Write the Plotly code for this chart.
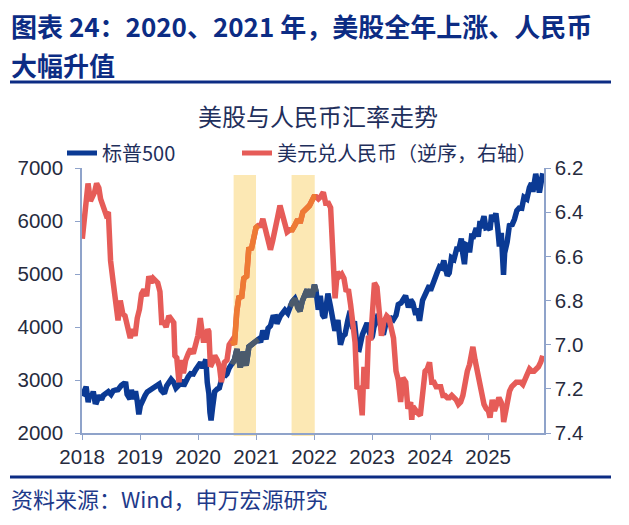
import plotly.graph_objects as go
import pandas as pd

# ---------------- data ----------------
spx_dates = ["2018-01-02","2018-01-16","2018-01-26","2018-02-08","2018-02-16","2018-03-01","2018-03-12","2018-03-23","2018-04-02","2018-04-18","2018-05-03","2018-05-15","2018-06-01","2018-06-15","2018-07-02","2018-07-16","2018-08-01","2018-08-15","2018-09-04","2018-09-20","2018-10-03","2018-10-11","2018-10-29","2018-11-07","2018-11-20","2018-12-03","2018-12-14","2018-12-24",
"2019-01-02","2019-01-15","2019-02-01","2019-02-15","2019-03-01","2019-03-15","2019-04-01","2019-04-15","2019-05-01","2019-05-13","2019-06-03","2019-06-17","2019-07-01","2019-07-15","2019-08-01","2019-08-15","2019-09-03","2019-09-16","2019-10-02","2019-10-15","2019-11-01","2019-11-15","2019-12-02","2019-12-16",
"2020-01-02","2020-01-17","2020-01-31","2020-02-19","2020-02-28","2020-03-09","2020-03-16","2020-03-23","2020-04-01","2020-04-15","2020-05-01","2020-05-14","2020-06-01","2020-06-08","2020-06-15","2020-07-01","2020-07-15","2020-08-03","2020-08-17","2020-09-02","2020-09-23","2020-10-12","2020-10-30","2020-11-16","2020-12-01","2020-12-15","2020-12-31",
"2021-01-15","2021-01-29","2021-02-12","2021-03-04","2021-03-17","2021-04-01","2021-04-16","2021-05-03","2021-05-12","2021-06-01","2021-06-15","2021-07-01","2021-07-19","2021-08-02","2021-08-16","2021-09-02","2021-09-20","2021-10-04","2021-10-18","2021-11-02","2021-11-18","2021-11-30","2021-12-10","2021-12-20","2022-01-03",
"2022-01-14","2022-01-27","2022-02-09","2022-02-23","2022-03-08","2022-03-29","2022-04-14","2022-04-29","2022-05-12","2022-05-31","2022-06-16","2022-07-01","2022-07-15","2022-08-01","2022-08-16","2022-09-01","2022-09-12","2022-09-30","2022-10-12","2022-11-01","2022-11-15","2022-12-01","2022-12-15","2022-12-28",
"2023-01-03","2023-01-13","2023-02-02","2023-02-15","2023-03-01","2023-03-13","2023-04-03","2023-04-17","2023-05-01","2023-05-15","2023-06-01","2023-06-15","2023-07-03","2023-07-17","2023-07-31","2023-08-18","2023-09-01","2023-09-15","2023-10-03","2023-10-12","2023-10-27","2023-11-15","2023-12-01","2023-12-15","2023-12-28",
"2024-01-04","2024-01-19","2024-02-01","2024-02-15","2024-03-01","2024-03-15","2024-03-28","2024-04-19","2024-05-01","2024-05-15","2024-05-31","2024-06-17","2024-07-01","2024-07-16","2024-07-25","2024-08-05","2024-08-16","2024-09-03","2024-09-06","2024-09-19","2024-10-01","2024-10-18","2024-10-31","2024-11-11","2024-11-15","2024-12-06","2024-12-18","2024-12-31",
"2025-01-13","2025-01-23","2025-02-03","2025-02-19","2025-03-03","2025-03-13","2025-03-25","2025-04-04","2025-04-08","2025-04-15","2025-05-01","2025-05-15","2025-06-02","2025-06-16","2025-07-01","2025-07-15","2025-08-01","2025-08-15","2025-09-02","2025-09-18","2025-10-01","2025-10-10","2025-10-28","2025-11-20","2025-12-01","2025-12-11"]
spx_values = [2695,2776,2873,2581,2732,2677,2783,2588,2582,2708,2630,2711,2735,2780,2726,2798,2813,2818,2896,2931,2925,2728,2641,2814,2642,2790,2600,2351,
2510,2610,2706,2775,2803,2822,2867,2905,2924,2812,2744,2889,2964,3014,2953,2847,2906,2997,2887,2995,3066,3120,3113,3191,
3258,3330,3225,3386,2954,2747,2386,2237,2470,2783,2830,2852,3055,3232,3066,3115,3226,3294,3381,3580,3237,3534,3270,3627,3662,3694,3756,
3768,3714,3934,3768,3974,4020,4185,4192,4063,4202,4246,4320,4258,4387,4479,4537,4358,4300,4486,4631,4704,4567,4712,4568,4796,
4662,4326,4587,4225,4170,4632,4392,4132,3930,4132,3667,3825,3863,4119,4305,3966,4110,3585,3577,3856,3991,4076,3895,3783,
3825,3999,4179,4147,3951,3855,4124,4151,4167,4136,4221,4425,4455,4522,4589,4369,4515,4450,4229,4349,4117,4502,4594,4719,4783,
4688,4840,4906,5029,5137,5117,5254,4967,5018,5308,5277,5473,5475,5667,5399,5186,5554,5528,5408,5713,5708,5864,5705,6001,5870,6090,5872,5882,
5836,6119,5994,6144,5849,5521,5776,5074,4982,5396,5604,5916,5935,6033,6198,6243,6238,6449,6415,6631,6711,6552,6890,6538,6812,6901]

cny_dates = ["2018-01-02","2018-01-12","2018-01-25","2018-02-07","2018-02-22","2018-03-06","2018-03-20","2018-04-02","2018-04-16","2018-04-27","2018-05-15","2018-05-31","2018-06-15","2018-06-29","2018-07-16","2018-08-01","2018-08-15","2018-08-29","2018-09-14","2018-09-28","2018-10-15","2018-10-31","2018-11-15","2018-11-30","2018-12-14","2018-12-28",
"2019-01-10","2019-01-25","2019-02-11","2019-02-25","2019-03-11","2019-03-25","2019-04-08","2019-04-22","2019-05-06","2019-05-17","2019-05-31","2019-06-14","2019-07-01","2019-07-15","2019-08-01","2019-08-08","2019-08-20","2019-09-03","2019-09-16","2019-10-01","2019-10-15","2019-11-01","2019-11-15","2019-12-02","2019-12-16","2019-12-31",
"2020-01-15","2020-02-03","2020-02-17","2020-03-02","2020-03-09","2020-03-19","2020-04-01","2020-04-15","2020-05-01","2020-05-15","2020-05-27","2020-06-15","2020-07-01","2020-07-15","2020-08-03","2020-08-17","2020-09-01","2020-09-15","2020-10-01","2020-10-15","2020-11-02","2020-11-16","2020-12-01","2020-12-15","2020-12-31",
"2021-01-15","2021-02-01","2021-02-12","2021-03-01","2021-03-15","2021-04-01","2021-04-15","2021-05-03","2021-05-17","2021-05-31","2021-06-15","2021-07-01","2021-07-15","2021-08-02","2021-08-16","2021-09-01","2021-09-15","2021-10-08","2021-10-22","2021-11-05","2021-11-19","2021-12-03","2021-12-17","2021-12-31",
"2022-01-14","2022-01-28","2022-02-11","2022-02-28","2022-03-15","2022-04-01","2022-04-15","2022-04-22","2022-04-29","2022-05-13","2022-05-27","2022-06-10","2022-06-24","2022-07-08","2022-07-22","2022-08-05","2022-08-19","2022-09-02","2022-09-16","2022-09-28","2022-10-14","2022-10-31","2022-11-11","2022-11-28","2022-12-09","2022-12-23",
"2023-01-06","2023-01-16","2023-02-01","2023-02-15","2023-03-01","2023-03-15","2023-04-03","2023-04-17","2023-05-02","2023-05-16","2023-06-01","2023-06-15","2023-06-30","2023-07-14","2023-08-01","2023-08-15","2023-09-01","2023-09-08","2023-09-15","2023-10-02","2023-10-16","2023-11-01","2023-11-15","2023-12-01","2023-12-15","2023-12-29",
"2024-01-12","2024-01-26","2024-02-09","2024-02-23","2024-03-08","2024-03-22","2024-04-05","2024-04-19","2024-05-03","2024-05-17","2024-05-31","2024-06-14","2024-06-28","2024-07-12","2024-07-26","2024-08-09","2024-08-23","2024-09-06","2024-09-20","2024-09-27","2024-10-11","2024-10-25","2024-11-08","2024-11-22","2024-12-06","2024-12-20",
"2025-01-03","2025-01-13","2025-01-27","2025-02-10","2025-02-24","2025-03-10","2025-03-24","2025-04-03","2025-04-09","2025-04-18","2025-05-02","2025-05-16","2025-05-30","2025-06-13","2025-06-27","2025-07-11","2025-07-25","2025-08-08","2025-08-22","2025-09-05","2025-09-19","2025-10-03","2025-10-17","2025-10-31","2025-11-14","2025-11-28","2025-12-11"]
cny_values = [6.52,6.45,6.32,6.27,6.35,6.33,6.31,6.27,6.29,6.34,6.37,6.41,6.40,6.62,6.72,6.82,6.89,6.80,6.86,6.87,6.92,6.97,6.93,6.96,6.88,6.84,
6.77,6.75,6.78,6.69,6.72,6.70,6.71,6.72,6.76,6.90,6.90,6.92,6.87,6.88,6.90,7.05,7.06,7.17,7.07,7.13,7.07,7.04,7.02,7.04,7.00,6.96,
6.88,6.98,6.98,6.93,6.94,7.10,7.08,7.05,7.07,7.10,7.17,7.08,7.07,7.00,6.98,7.00,6.85,6.78,6.79,6.70,6.69,6.56,6.57,6.52,6.47,
6.46,6.46,6.43,6.48,6.52,6.57,6.53,6.45,6.42,6.37,6.41,6.47,6.49,6.48,6.48,6.46,6.44,6.44,6.40,6.39,6.38,6.37,6.35,6.33,
6.33,6.34,6.33,6.31,6.36,6.36,6.38,6.50,6.62,6.79,6.67,6.69,6.68,6.70,6.76,6.75,6.82,6.90,6.99,7.20,7.19,7.32,7.10,7.20,6.96,6.98,
6.84,6.72,6.74,6.84,6.96,6.90,6.87,6.88,6.92,6.97,7.12,7.16,7.26,7.15,7.17,7.29,7.26,7.34,7.28,7.30,7.31,7.32,7.24,7.12,7.11,7.08,
7.17,7.17,7.19,7.19,7.19,7.23,7.23,7.24,7.24,7.23,7.24,7.25,7.27,7.26,7.23,7.17,7.12,7.09,7.05,7.01,7.07,7.12,7.18,7.24,7.27,7.29,
7.30,7.33,7.25,7.30,7.27,7.24,7.26,7.29,7.35,7.31,7.27,7.21,7.19,7.18,7.17,7.17,7.17,7.18,7.16,7.13,7.11,7.12,7.12,7.11,7.10,7.08,7.05]

band_starts = ["2020-08-12", "2021-08-12"]
band_ends = ["2020-12-31", "2022-01-05"]

year_ticks = ["2018-01-01","2019-01-01","2020-01-01","2021-01-01","2022-01-01","2023-01-01","2024-01-01","2025-01-01"]
year_labels = ["2018","2019","2020","2021","2022","2023","2024","2025"]
left_ticks = [2000, 3000, 4000, 5000, 6000, 7000]
right_ticks = [6.2, 6.4, 6.6, 6.8, 7.0, 7.2, 7.4]

# ---------------- layout helpers ----------------
W, H = 629, 525
L, R, T, B = 82, 85, 168, 92
PW, PH = W - L - R, H - T - B
def px(x): return (x - L) / PW
def py(y): return (H - B - y) / PH

NAVY = "#0C2C84"
BLUE = "#0B3A94"
GRAY = "#4B5A6C"
RED = "#E65C58"
ORANGE = "#EE7A34"
BAND = "#FCE8B4"
AXIS = "#8FA3CA"
TXT = "#262B3E"
FONT = "Noto Sans CJK SC"
NUMFONT = "Liberation Sans, Noto Sans CJK SC"
LW = 5.5

spx = pd.DataFrame({"d": pd.to_datetime(spx_dates), "v": spx_values})
cny = pd.DataFrame({"d": pd.to_datetime(cny_dates), "v": cny_values})

def segment(df, s, e):
    s, e = pd.Timestamp(s), pd.Timestamp(e)
    idx = df.index[(df["d"] >= s) & (df["d"] <= e)]
    lo = max(idx.min() - 1, 0)
    hi = min(idx.max() + 1, len(df) - 1)
    return df.iloc[lo:hi + 1]

fig = go.Figure()

fig.add_trace(go.Scatter(x=spx["d"], y=spx["v"], mode="lines", name="标普500",
                         line=dict(color=BLUE, width=LW), yaxis="y", legend="legend"))
for s, e in zip(band_starts, band_ends):
    seg = segment(spx, s, e)
    fig.add_trace(go.Scatter(x=seg["d"], y=seg["v"], mode="lines", showlegend=False,
                             line=dict(color=GRAY, width=LW), yaxis="y"))

fig.add_trace(go.Scatter(x=cny["d"], y=cny["v"], mode="lines", name="美元兑人民币（逆序，右轴）",
                         line=dict(color=RED, width=LW), yaxis="y2", legend="legend2"))
for s, e in zip(band_starts, band_ends):
    seg = segment(cny, s, e)
    fig.add_trace(go.Scatter(x=seg["d"], y=seg["v"], mode="lines", showlegend=False,
                             line=dict(color=ORANGE, width=LW), yaxis="y2"))

shapes = []
for s, e in zip(band_starts, band_ends):
    shapes.append(dict(type="rect", xref="x", yref="paper", x0=s, x1=e,
                       y0=py(436), y1=py(175), fillcolor=BAND, line=dict(width=0), layer="below"))
for yy in (82, 477):
    shapes.append(dict(type="line", xref="paper", yref="paper", x0=px(10), x1=px(611),
                       y0=py(yy), y1=py(yy), line=dict(color=NAVY, width=3)))

annotations = [
    dict(text="<b>图表 24：2020、2021 年，美股全年上涨、人民币</b>", x=px(9), y=py(26),
         xref="paper", yref="paper", xanchor="left", yanchor="middle", showarrow=False,
         font=dict(family=FONT, size=26, color=NAVY)),
    dict(text="<b>大幅升值</b>", x=px(9), y=py(64),
         xref="paper", yref="paper", xanchor="left", yanchor="middle", showarrow=False,
         font=dict(family=FONT, size=26, color=NAVY)),
    dict(text="美股与人民币汇率走势", x=px(318), y=py(115),
         xref="paper", yref="paper", xanchor="center", yanchor="middle", showarrow=False,
         font=dict(family=FONT, size=24, color="#1F2F5C")),
    dict(text="资料来源：Wind，申万宏源研究", x=px(9), y=py(498),
         xref="paper", yref="paper", xanchor="left", yanchor="middle", showarrow=False,
         font=dict(family=FONT, size=22, color="#1E3A8A")),
]

leg_common = dict(orientation="h", yanchor="middle", xanchor="left",
                  font=dict(family=FONT, size=20, color="#1F2F5C"),
                  bgcolor="rgba(0,0,0,0)", itemsizing="constant")

fig.update_layout(
    width=W, height=H,
    margin=dict(l=L, r=R, t=T, b=B),
    paper_bgcolor="white", plot_bgcolor="white",
    showlegend=True,
    legend=dict(x=px(62), y=py(153), **leg_common),
    legend2=dict(x=px(237), y=py(153), **leg_common),
    shapes=shapes,
    annotations=annotations,
    xaxis=dict(type="date", range=["2017-12-31", "2025-12-19"], tickmode="array",
               tickvals=year_ticks, ticktext=year_labels, showgrid=False, zeroline=False,
               showline=True, linecolor=AXIS, linewidth=1.5, ticks="outside", ticklen=5,
               tickcolor=AXIS, tickfont=dict(family=NUMFONT, size=20.5, color=TXT)),
    yaxis=dict(range=[2000, 7000], tickmode="array", tickvals=left_ticks,
               showgrid=False, zeroline=False, showline=True, linecolor=AXIS, linewidth=1.5,
               ticks="outside", ticklen=5, tickcolor=AXIS, ticklabelstandoff=8,
               tickfont=dict(family=NUMFONT, size=20.5, color=TXT)),
    yaxis2=dict(range=[7.4, 6.2], overlaying="y", side="right", tickmode="array",
                tickvals=right_ticks, tickformat=".1f", showgrid=False, zeroline=False,
                showline=True, linecolor=AXIS, linewidth=1.5, ticks="outside", ticklen=5,
                tickcolor=AXIS, tickfont=dict(family=NUMFONT, size=20.5, color=TXT)),
)

fig.write_html("out.html")
